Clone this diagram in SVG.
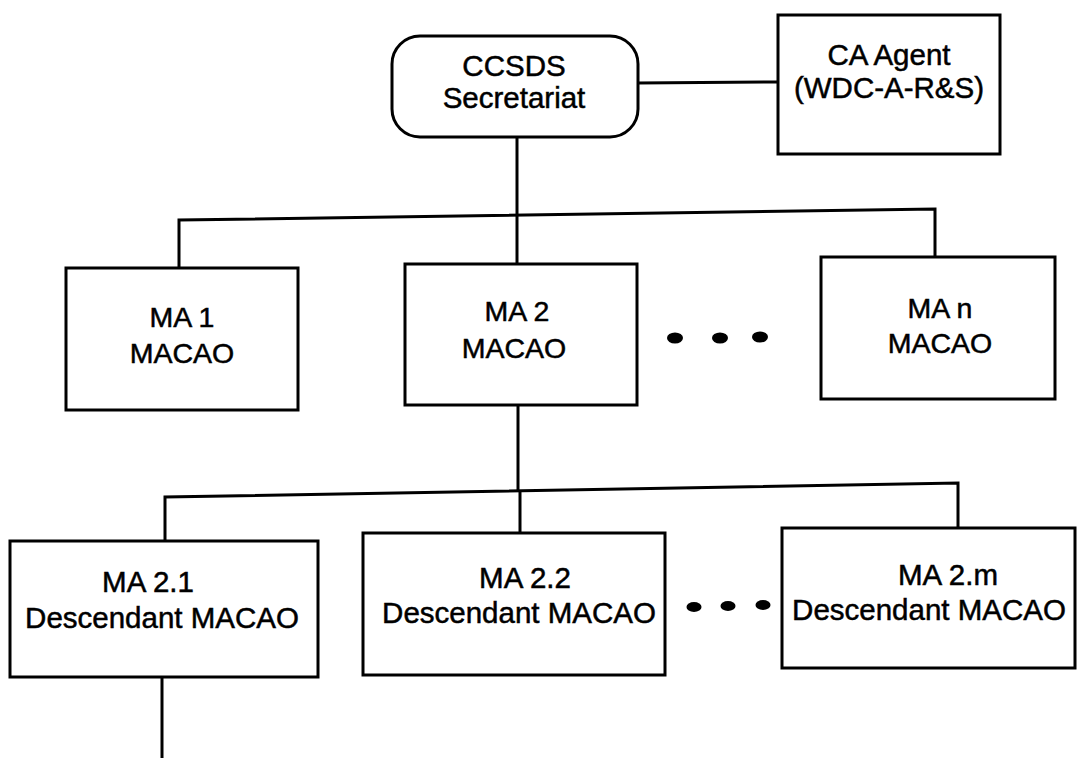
<svg xmlns="http://www.w3.org/2000/svg" width="1088" height="758" viewBox="0 0 1088 758">
<style>
.box{fill:#fff;stroke:#000;stroke-width:3}
.ln{fill:none;stroke:#000;stroke-width:3}
text{font-family:"Liberation Sans",Arial,sans-serif;fill:#000;stroke:#000;stroke-width:0.5;text-anchor:middle}
.t1{font-size:29.5px}
.t2{font-size:28.5px}
.dot{fill:#000}
</style>
<rect width="1088" height="758" fill="#fff"/>
<g id="connectors">
<path class="ln" d="M638,83 L778,82"/>
<path class="ln" d="M517,137 V214"/>
<path class="ln" d="M179,268 V220 L935,209 V257"/>
<path class="ln" d="M517,214 V264"/>
<path class="ln" d="M518,405 V490"/>
<path class="ln" d="M165,541 V497 L958,483 V528"/>
<path class="ln" d="M520,490 V533"/>
<path class="ln" d="M162,677 V758"/>
</g>
<g id="secretariat">
<rect class="box" x="392" y="36" width="246" height="101" rx="28"/>
<text class="t1" x="514" y="76">CCSDS</text>
<text class="t1" x="514" y="108">Secretariat</text>
</g>
<g id="ca-agent">
<rect class="box" x="778" y="15" width="222" height="139"/>
<text class="t1" x="889" y="65">CA Agent</text>
<text class="t1" x="889" y="98">(WDC-A-R&amp;S)</text>
</g>
<g id="ma1">
<rect class="box" x="66" y="268" width="232" height="142"/>
<text class="t2" x="182" y="327">MA 1</text>
<text class="t2" x="182" y="363">MACAO</text>
</g>
<g id="ma2">
<rect class="box" x="405" y="264" width="232" height="141"/>
<text class="t2" x="517" y="321">MA 2</text>
<text class="t2" x="514" y="358">MACAO</text>
</g>
<g id="dots1">
<ellipse class="dot" cx="675" cy="338" rx="8" ry="5.5"/>
<ellipse class="dot" cx="720" cy="338" rx="8" ry="5.5"/>
<ellipse class="dot" cx="760" cy="337" rx="8" ry="5.5"/>
</g>
<g id="man">
<rect class="box" x="821" y="257" width="234" height="142"/>
<text class="t2" x="940" y="318">MA n</text>
<text class="t2" x="940" y="353">MACAO</text>
</g>
<g id="ma21">
<rect class="box" x="10" y="541" width="308" height="136"/>
<text class="t1" x="148" y="592">MA 2.1</text>
<text class="t1" x="162" y="628">Descendant MACAO</text>
</g>
<g id="ma22">
<rect class="box" x="363" y="533" width="302" height="142"/>
<text class="t1" x="525" y="588">MA 2.2</text>
<text class="t1" x="519" y="623">Descendant MACAO</text>
</g>
<g id="dots2">
<ellipse class="dot" cx="694" cy="607" rx="7.5" ry="5"/>
<ellipse class="dot" cx="728" cy="606" rx="7.5" ry="5"/>
<ellipse class="dot" cx="763" cy="605" rx="7.5" ry="5"/>
</g>
<g id="ma2m">
<rect class="box" x="782" y="528" width="293" height="140"/>
<text class="t1" x="948" y="585">MA 2.m</text>
<text class="t1" x="929" y="620">Descendant MACAO</text>
</g>
</svg>
